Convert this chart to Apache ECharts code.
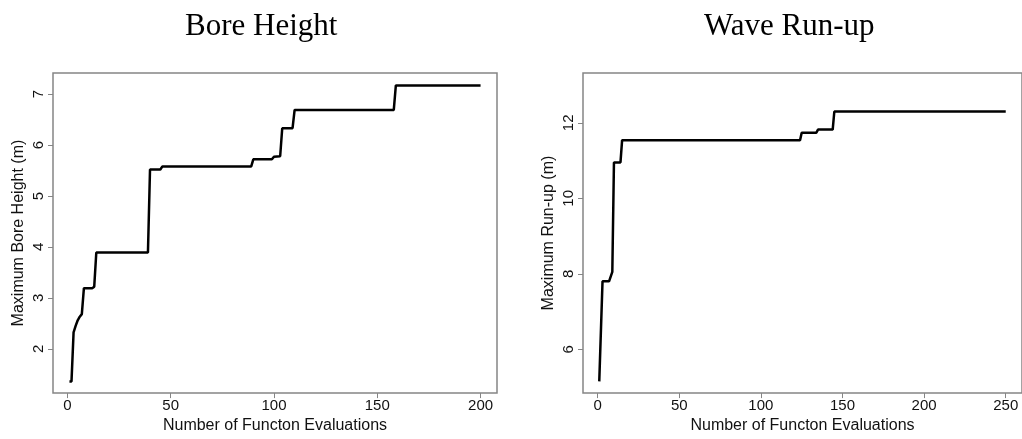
<!DOCTYPE html>
<html>
<head>
    <meta charset="UTF-8">
    <title>max search</title>
    <script src="https://cdn.jsdelivr.net/npm/echarts@6/dist/echarts.min.js"></script>
    <style>
        *{margin:0;padding:0}
        html, body{
            width:100%;
            height:100%;
            background:#fff;
        }
        #main{
            width:1022px;
            height:439px;
        }
    </style>
</head>
<body>
    <div id="main"></div>
    <script type="text/javascript">
        // evaluation number / running maximum
        var boreEval   = [1, 2, 3, 4, 5, 6, 7, 8, 12, 13, 14, 39, 40, 45, 46, 89, 90, 99, 100, 103, 104, 109, 110, 158, 159, 200];
        var boreHeight = [1.36, 1.36, 2.32, 2.45, 2.56, 2.63, 2.68, 3.19, 3.19, 3.22, 3.89, 3.89, 5.52, 5.52, 5.58, 5.58, 5.72, 5.72, 5.77, 5.78, 6.33, 6.33, 6.69, 6.69, 7.17, 7.17];

        var runupEval  = [1, 2, 3, 7, 8, 9, 10, 14, 15, 124, 125, 134, 135, 144, 145, 250];
        var runupValue = [5.15, 5.15, 7.80, 7.80, 7.84, 8.05, 10.95, 10.95, 11.54, 11.54, 11.74, 11.74, 11.82, 11.82, 12.30, 12.30];

        var boreXTicks  = [0, 50, 100, 150, 200];
        var boreYTicks  = [2, 3, 4, 5, 6, 7];
        var runupXTicks = [0, 50, 100, 150, 200, 250];
        var runupYTicks = [6, 8, 10, 12];

        function pairs(xs, ys) {
            return xs.map(function (x, i) { return [x, ys[i]]; });
        }

        var boxColor = '#858585';
        var sans = 'Liberation Sans';

        function xAxis(idx, min, max, ticks) {
            return {
                type: 'value', gridIndex: idx, min: min, max: max,
                name: 'Number of Functon Evaluations',
                nameLocation: 'middle', nameGap: 22,
                nameTextStyle: {fontFamily: sans, fontSize: 16, color: '#111'},
                axisLine: {show: false, onZero: false},
                splitLine: {show: false},
                axisTick: {show: true, length: 5, lineStyle: {color: boxColor}, customValues: ticks},
                axisLabel: {fontFamily: sans, fontSize: 15, color: '#111', margin: 5, customValues: ticks}
            };
        }
        function yAxis(idx, min, max, ticks, name) {
            return {
                type: 'value', gridIndex: idx, min: min, max: max,
                name: name,
                nameLocation: 'middle', nameGap: 26,
                nameTextStyle: {fontFamily: sans, fontSize: 16, color: '#111'},
                axisLine: {show: false, onZero: false},
                splitLine: {show: false},
                axisTick: {show: true, length: 5, lineStyle: {color: boxColor}, customValues: ticks},
                axisLabel: {fontFamily: sans, fontSize: 15, color: '#111', margin: 7, rotate: 90, customValues: ticks}
            };
        }

        var myChart = echarts.init(document.getElementById('main'));
        var option = {
            animation: false,
            title: [
                {text: 'Bore Height', left: 180, top: 6,
                 textStyle: {fontFamily: 'Liberation Serif', fontSize: 31, fontWeight: 'normal', color: '#000'}},
                {text: 'Wave Run-up', left: 699, top: 6,
                 textStyle: {fontFamily: 'Liberation Serif', fontSize: 31, fontWeight: 'normal', color: '#000'}}
            ],
            grid: [
                {left: 53, top: 73, width: 444, height: 323, show: true, borderColor: boxColor, borderWidth: 1.5},
                {left: 583, top: 73, width: 444, height: 323, show: true, borderColor: boxColor, borderWidth: 1.5}
            ],
            xAxis: [
                xAxis(0, -6.96, 207.96, boreXTicks),
                xAxis(1, -8.96, 259.96, runupXTicks)
            ],
            yAxis: [
                yAxis(0, 1.13, 7.414, boreYTicks, 'Maximum Bore Height (m)'),
                yAxis(1, 4.84, 13.32, runupYTicks, 'Maximum Run-up (m)')
            ],
            series: [
                {type: 'line', xAxisIndex: 0, yAxisIndex: 0, showSymbol: false,
                 lineStyle: {color: '#000', width: 2.5}, data: pairs(boreEval, boreHeight)},
                {type: 'line', xAxisIndex: 1, yAxisIndex: 1, showSymbol: false,
                 lineStyle: {color: '#000', width: 2.5}, data: pairs(runupEval, runupValue)}
            ]
        };
        myChart.setOption(option);
    </script>
</body>
</html>
